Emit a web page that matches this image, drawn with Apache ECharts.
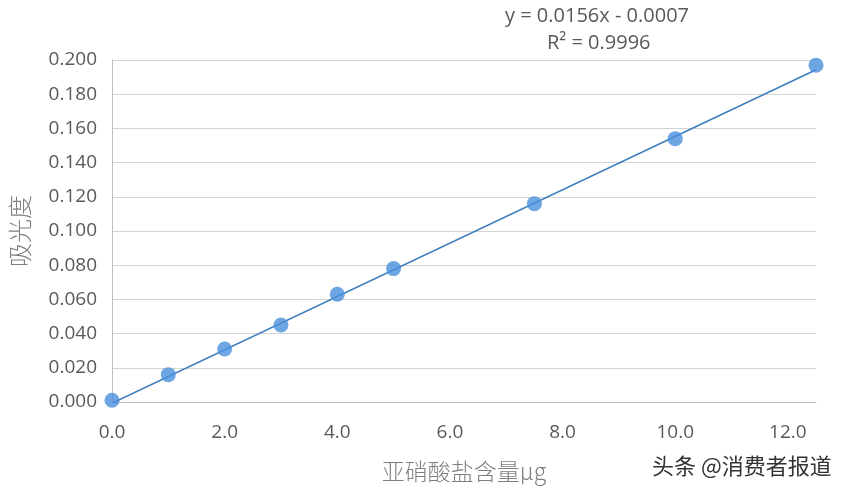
<!DOCTYPE html>
<html><head><meta charset="utf-8">
<script src="https://cdn.jsdelivr.net/npm/echarts@6/dist/echarts.min.js"></script>
<style>html,body{margin:0;padding:0;background:#fff}#c{width:846px;height:500px}</style>
</head><body><div id="c"></div>
<script>
const xValues = [0, 1, 2, 3, 4, 5, 7.5, 10, 12.5];
const yValues = [0.001, 0.016, 0.031, 0.045, 0.063, 0.078, 0.116, 0.154, 0.197];
const trendX = [0, 12.5];
const trendY = [-0.0007, 0.1943];
const equationText = 'y = 0.0156x - 0.0007';
const r2Text = 'R² = 0.9996';
const xName = '亚硝酸盐含量μg';
const yName = '吸光度';
const watermark = '头条 @消费者报道';

const chart = echarts.init(document.getElementById('c'));
const labelFont = '"Open Sans", "Liberation Sans", sans-serif';
chart.setOption({
  backgroundColor: '#ffffff',
  animation: false,
  grid: {left: 112, right: 30, top: 60, bottom: 98},
  xAxis: {
    type: 'value', min: 0, max: 12.5, interval: 2,
    axisLine: {show: true, lineStyle: {color: '#bfbfbf', width: 1}},
    axisTick: {show: false},
    splitLine: {show: false},
    axisLabel: {color: '#595959', fontSize: 19, fontFamily: labelFont, margin: 21,
      showMaxLabel: false, formatter: v => v.toFixed(1)},
    name: xName, nameLocation: 'middle', nameGap: 58,
    nameTextStyle: {color: '#7f7f7f', fontSize: 23, fontFamily: '"Noto Sans CJK SC", sans-serif', fontWeight: 300}
  },
  yAxis: {
    type: 'value', min: 0, max: 0.2, interval: 0.02,
    axisLine: {show: true, lineStyle: {color: '#bfbfbf', width: 1}},
    axisTick: {show: false},
    splitLine: {show: true, lineStyle: {color: '#d4d4d4', width: 1}},
    axisLabel: {color: '#595959', fontSize: 19, fontFamily: labelFont, margin: 15,
      formatter: v => v.toFixed(3)},
    name: yName, nameLocation: 'middle', nameGap: 80, nameRotate: 90,
    nameTextStyle: {color: '#7f7f7f', fontSize: 24, fontFamily: '"Noto Sans CJK SC", sans-serif', fontWeight: 300}
  },
  series: [
    {
      type: 'line', data: trendX.map((x, i) => [x, trendY[i]]),
      symbol: 'none', lineStyle: {color: '#3f7fbf', width: 1.6}, silent: true, z: 2
    },
    {
      type: 'scatter', data: xValues.map((x, i) => [x, yValues[i]]),
      symbol: 'circle', symbolSize: 15,
      itemStyle: {color: '#4a90dd', borderWidth: 0}, z: 3, clip: false
    }
  ],
  graphic: [
    {type: 'text', left: 505, top: 6, style: {text: equationText, fill: '#595959', font: '20px ' + labelFont}},
    {type: 'text', left: 547, top: 33, style: {text: r2Text, fill: '#595959', font: '20px ' + labelFont}},
    {type: 'text', left: 652, top: 455, style: {text: watermark, fill: '#333333', font: '22px "Noto Sans CJK SC", sans-serif'}}
  ]
});
</script></body></html>
